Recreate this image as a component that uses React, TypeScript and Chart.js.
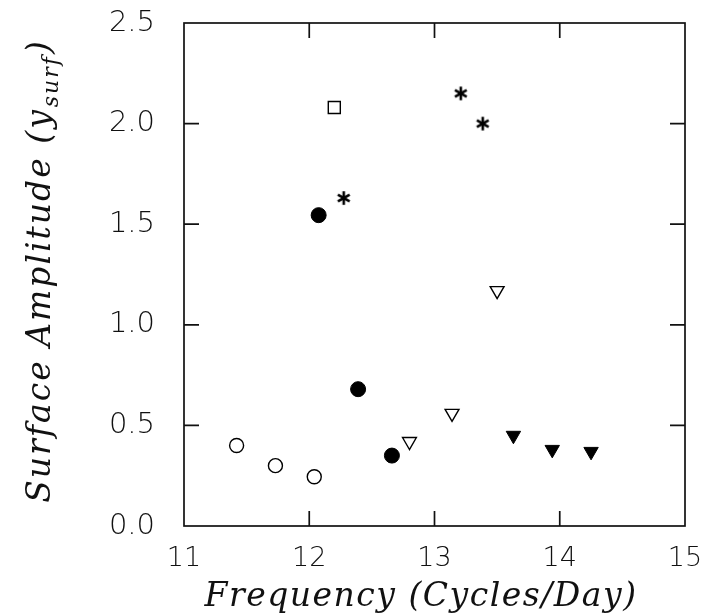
import React, { useEffect, useRef } from "react";
import { Chart, registerables } from "chart.js";

Chart.register(...registerables);

const xTicks = [11, 12, 13, 14, 15];
const yTicks = [0, 0.5, 1.0, 1.5, 2.0, 2.5];

const openCircleX = [11.42, 11.73, 12.04];
const openCircleY = [0.4, 0.3, 0.245];
const filledCircleX = [12.075, 12.39, 12.66];
const filledCircleY = [1.545, 0.68, 0.35];
const squareX = [12.2];
const squareY = [2.08];
const starX = [12.275, 13.21, 13.385];
const starY = [1.63, 2.15, 2.0];
const openTriX = [12.8, 13.14, 13.5];
const openTriY = [0.42, 0.56, 1.17];
const filledTriX = [13.63, 13.94, 14.25];
const filledTriY = [0.45, 0.38, 0.37];

const xTitle = "Frequency (Cycles/Day)";
const yTitleMain = "Surface Amplitude (";
const yTitleVar = "y";
const yTitleSub = "surf";
const yTitleEnd = ")";

function pts(xs: number[], ys: number[]) {
  return xs.map((x, i) => ({ x, y: ys[i] }));
}

function makeAsterisk(): HTMLCanvasElement {
  const c = document.createElement("canvas");
  c.width = 16;
  c.height = 16;
  const g = c.getContext("2d")!;
  g.strokeStyle = "#000";
  g.lineWidth = 2.6;
  g.lineCap = "butt";
  const cx = 8, cy = 8, r = 6.8;
  for (let k = 0; k < 3; k++) {
    const a = Math.PI / 2 + (k * Math.PI) / 3;
    g.beginPath();
    g.moveTo(cx + r * Math.cos(a), cy + r * Math.sin(a));
    g.lineTo(cx - r * Math.cos(a), cy - r * Math.sin(a));
    g.stroke();
  }
  return c;
}

const SERIF = "'DejaVu Serif', 'Liberation Serif', serif";
const SANS = "'DejaVu Sans', 'Liberation Sans', sans-serif";

const framePlugin = {
  id: "frame",
  afterDraw(chart: any) {
    const { ctx, chartArea } = chart;
    const xs = chart.scales.x;
    const ys = chart.scales.y;
    const { left, right, top, bottom } = chartArea;
    ctx.save();
    ctx.strokeStyle = "#111";
    ctx.lineWidth = 1.7;
    ctx.strokeRect(left, top, right - left, bottom - top);
    const tl = 15;
    ctx.beginPath();
    xTicks.slice(1, -1).forEach((v) => {
      const p = xs.getPixelForValue(v);
      ctx.moveTo(p, bottom);
      ctx.lineTo(p, bottom - tl);
      ctx.moveTo(p, top);
      ctx.lineTo(p, top + tl);
    });
    yTicks.slice(1, -1).forEach((v) => {
      const p = ys.getPixelForValue(v);
      ctx.moveTo(left, p);
      ctx.lineTo(left + tl, p);
      ctx.moveTo(right, p);
      ctx.lineTo(right - tl, p);
    });
    ctx.stroke();

    // titles
    ctx.fillStyle = "#111";
    const serif = "italic 33px " + SERIF;
    const subFont = "italic 22px " + SERIF;
    ctx.font = serif;
    (ctx as any).letterSpacing = "1.5px";
    ctx.textAlign = "center";
    ctx.textBaseline = "alphabetic";
    ctx.fillText(xTitle, 421, 606);

    // y title rotated
    (ctx as any).letterSpacing = "2px";
    ctx.translate(50, 271);
    ctx.rotate(-Math.PI / 2);
    ctx.textAlign = "left";
    ctx.font = serif;
    const w1 = ctx.measureText(yTitleMain).width;
    const w2 = ctx.measureText(yTitleVar).width;
    const w4 = ctx.measureText(yTitleEnd).width;
    ctx.font = subFont;
    const w3 = ctx.measureText(yTitleSub).width;
    const total = w1 + w2 + w3 + w4 + 2;
    let x0 = -total / 2;
    ctx.font = serif;
    ctx.fillText(yTitleMain, x0, 0);
    x0 += w1;
    ctx.fillText(yTitleVar, x0, 0);
    x0 += w2 + 1;
    ctx.font = subFont;
    ctx.fillText(yTitleSub, x0, 8);
    x0 += w3 + 1;
    ctx.font = serif;
    ctx.fillText(yTitleEnd, x0, 0);
    ctx.restore();
  },
};

export default function App() {
  const ref = useRef<HTMLCanvasElement | null>(null);
  useEffect(() => {
    document.body.style.margin = "0";
    const star = makeAsterisk();
    const black = "#000";
    const chart = new Chart(ref.current!, {
      type: "scatter",
      data: {
        datasets: [
          {
            label: "open circles",
            data: pts(openCircleX, openCircleY),
            pointStyle: "circle",
            pointRadius: 7,
            backgroundColor: "#fff",
            borderColor: black,
            borderWidth: 1.4,
          },
          {
            label: "filled circles",
            data: pts(filledCircleX, filledCircleY),
            pointStyle: "circle",
            pointRadius: 7.5,
            backgroundColor: black,
            borderColor: black,
            borderWidth: 1,
          },
          {
            label: "square",
            data: pts(squareX, squareY),
            pointStyle: "rect",
            pointRadius: 8.5,
            backgroundColor: "#fff",
            borderColor: black,
            borderWidth: 1.4,
          },
          {
            label: "asterisk",
            data: pts(starX, starY),
            pointStyle: star as any,
            pointRadius: 7,
            backgroundColor: black,
            borderColor: black,
          },
          {
            label: "open triangles",
            data: pts(openTriX, openTriY),
            pointStyle: "triangle",
            rotation: 180,
            pointRadius: 8,
            backgroundColor: "#fff",
            borderColor: black,
            borderWidth: 1.4,
          },
          {
            label: "filled triangles",
            data: pts(filledTriX, filledTriY),
            pointStyle: "triangle",
            rotation: 180,
            pointRadius: 8.3,
            backgroundColor: black,
            borderColor: black,
            borderWidth: 1,
          },
        ],
      },
      options: {
        animation: false,
        responsive: false,
        maintainAspectRatio: false,
        layout: { padding: { left: 0, right: 17, top: 23, bottom: 0 } },
        plugins: {
          legend: { display: false },
          tooltip: { enabled: false },
        },
        scales: {
          x: {
            type: "linear",
            min: 11,
            max: 15,
            afterBuildTicks: (s: any) => {
              s.ticks = xTicks.map((v) => ({ value: v }));
            },
            afterFit: (s: any) => {
              s.height = 88;
              s.paddingLeft = 0;
              s.paddingRight = 0;
            },
            grid: { display: false },
            border: { display: false },
            ticks: {
              padding: 9,
              color: "#111",
              font: { family: SANS, size: 27, weight: "200" as any },
              callback: (v: any) => String(v),
              maxRotation: 0,
            },
          },
          y: {
            type: "linear",
            min: 0,
            max: 2.5,
            afterBuildTicks: (s: any) => {
              s.ticks = yTicks.map((v) => ({ value: v }));
            },
            afterFit: (s: any) => {
              s.width = 184;
              s.paddingTop = 0;
              s.paddingBottom = 0;
            },
            grid: { display: false },
            border: { display: false },
            ticks: {
              padding: 21,
              color: "#111",
              font: { family: SANS, size: 29, weight: "200" as any },
              callback: (v: any) => Number(v).toFixed(1),
            },
          },
        },
      },
      plugins: [framePlugin],
    });
    return () => chart.destroy();
  }, []);
  return (
    <div style={{ width: 702, height: 614 }}>
      <canvas ref={ref} width={702} height={614} style={{ display: "block" }} />
    </div>
  );
}
